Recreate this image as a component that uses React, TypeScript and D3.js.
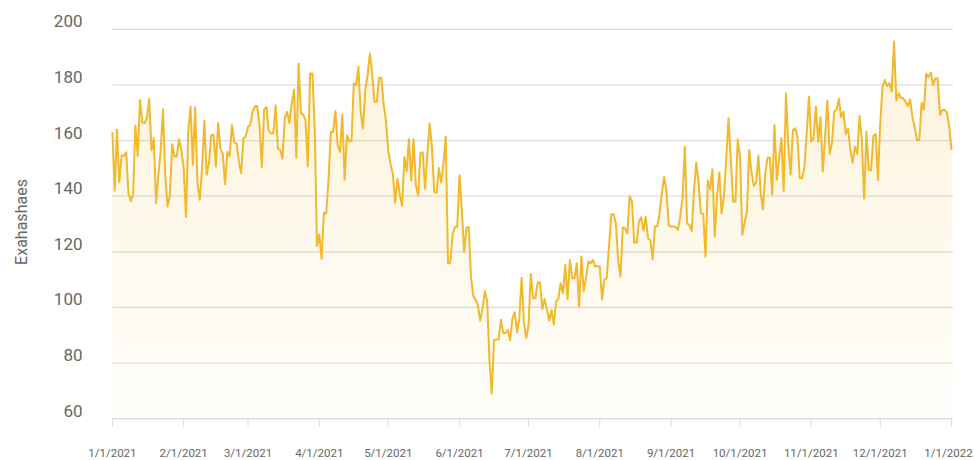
import React from "react";
import * as d3 from "d3";

const startDate = "2021-01-01";
const endDate = "2022-01-01";
const yTicks = [60, 80, 100, 120, 140, 160, 180, 200];
const yTitle = "Exahashaes";

// daily hashrate values, 1/1/2021 .. 1/1/2022
const hashrate: number[] = [
  163, 142, 164, 145, 154.6, 154.5, 155.8, 141, 138.3, 140.5,
  165.4, 154.5, 174.6, 166.5, 166.3, 168, 175, 156.5, 160.8, 137.5,
  147.7, 156.6, 171.3, 147.3, 136.3, 140.5, 158.7, 154.3, 154.3, 160.5,
  156.5, 150.3, 132.5, 163.2, 172.2, 151.3, 172, 144.7, 138.7, 150,
  167, 147.7, 151.9, 162, 162, 150.7, 166.2, 157.2, 155.4, 144.3,
  156, 154.3, 165.6, 159.4, 159, 152.5, 148.3, 160.8, 161.4, 165,
  165.7, 170.5, 172.3, 172.4, 165.5, 150.5, 171.2, 172, 163.4, 162.5,
  162.7, 172.7, 157, 156.7, 153.5, 168.2, 170.3, 166.3, 173.3, 178.3,
  153.8, 187.7, 169.7, 169.4, 167.3, 150.8, 184.1, 184.1, 164.9, 122,
  126.2, 117.5, 134, 133.7, 145.7, 163.1, 163.1, 170.6, 158.3, 155.9,
  169.4, 145.9, 161.9, 159.8, 159.8, 180.5, 179.9, 186.5, 170.3, 164.3,
  178.1, 183.5, 191.3, 184.1, 173.9, 173.9, 182.6, 182.6, 172.7, 167.3,
  156.2, 151.7, 148, 137.6, 146.3, 140.7, 136.5, 154.1, 148.9, 160.5,
  145.7, 160.5, 143.9, 140.3, 155.7, 155.7, 142.7, 154.7, 166.1, 157.7,
  141.5, 141.2, 150.1, 144.9, 151.7, 161.5, 115.7, 116.3, 126.5, 128.9,
  128.9, 147.5, 134.9, 119.9, 128.7, 128.9, 110.7, 104, 102.8, 100.7,
  95.3, 99.5, 105.9, 102.5, 81, 69, 88.2, 88.5, 88.5, 95.6,
  90.8, 90.8, 92, 88.2, 96, 98.3, 91.1, 96, 110.7, 94.8,
  89, 93.5, 112, 103.3, 103.3, 109, 109, 99.4, 103, 99.4,
  95.2, 99.1, 93.8, 102.1, 103.3, 108.7, 105.1, 115.3, 103, 117.1,
  110.5, 110.5, 115.9, 100.3, 118.3, 105.9, 110.5, 116.5, 115.9, 117.1,
  114.7, 114.9, 114.7, 103, 110.1, 110.5, 121.8, 133.5, 133.5, 130.2,
  117.1, 111.1, 128.8, 128.4, 126.6, 140, 138, 123.3, 123.3, 130.8,
  132.4, 127.6, 132.6, 124.8, 124.2, 117.3, 129.2, 129.2, 133.8, 141,
  146.9, 142.2, 129.5, 129.1, 129.1, 128.9, 127.9, 132.7, 139.3, 157.8,
  130.1, 129.7, 127.5, 142.3, 152.1, 144.7, 133.9, 133.7, 118.3, 145.6,
  142.5, 149.7, 125.5, 139.9, 148.5, 133.9, 139.9, 153.1, 168, 153.1,
  138.1, 138.1, 160.5, 154.3, 126.1, 130.5, 134.5, 156.6, 148.5, 143.7,
  144.9, 154.6, 141.1, 135.3, 148.3, 153.9, 153.9, 140.5, 165.6, 145.9,
  153.7, 160.8, 141.9, 177, 158.4, 147.7, 163.8, 164.4, 161.2, 146.5,
  146.5, 150.4, 162.6, 175.8, 159.6, 160.8, 172.2, 159.6, 168.4, 148.8,
  161.4, 174.4, 155.2, 159, 170.6, 171, 175, 168.4, 170.4, 162.4,
  164.4, 156.6, 152, 157.8, 155.2, 168.8, 160.2, 139.2, 163.2, 149.4,
  149.2, 161.6, 162.4, 145.8, 166.2, 179.4, 181.8, 179.6, 180.6, 177.6,
  195.6, 174.4, 177, 175.4, 175.2, 174, 172.4, 174.8, 168.4, 165,
  160.2, 160.2, 173.6, 171.2, 184, 182.8, 184.4, 180, 182.4, 182.4,
  169.2, 171, 171, 170, 165, 156.6,
];

const W = 974;
const H = 460;
const plotLeft = 112.4;
const plotRight = 951.5;
const gridRight = 953;
const plotTop = 29.3;
const plotBottom = 418.7;
const lineColor = "#f1b92b";
const textColor = "#666666";
const gridColor = "#dcdcdc";

const parse = d3.utcParse("%Y-%m-%d");

export default function App() {
  const start = parse(startDate) as Date;
  const end = parse(endDate) as Date;
  const data = hashrate.map((v, i) => ({ date: d3.utcDay.offset(start, i), v }));

  const x = d3.scaleUtc().domain([start, end]).range([plotLeft, plotRight]);
  const y = d3.scaleLinear().domain([60, 200]).range([plotBottom, plotTop]);

  const line = d3
    .line<{ date: Date; v: number }>()
    .x((d) => x(d.date))
    .y((d) => y(d.v));
  const area = d3
    .area<{ date: Date; v: number }>()
    .x((d) => x(d.date))
    .y0(y(60))
    .y1((d) => y(d.v));

  const months = d3.utcMonth.range(start, d3.utcDay.offset(end, 1));
  const fmt = (d: Date) => `${d.getUTCMonth() + 1}/${d.getUTCDate()}/${d.getUTCFullYear()}`;

  return (
    <div style={{ position: "absolute", left: 0, top: 0 }}>
      <svg width={W} height={H} style={{ display: "block", fontFamily: "Roboto, sans-serif" }}>
        <defs>
          <linearGradient id="areaGrad" gradientUnits="userSpaceOnUse" x1="0" x2="0" y1={y(200)} y2={y(60)}>
            <stop offset="0%" stopColor={lineColor} stopOpacity={0.17} />
            <stop offset="100%" stopColor={lineColor} stopOpacity={0.02} />
          </linearGradient>
        </defs>
        {yTicks.map((t) => (
          <g key={t}>
            <line x1={plotLeft} x2={gridRight} y1={y(t)} y2={y(t)} stroke={gridColor} strokeWidth={1.2} />
            <text x={82.5} y={y(t) - 2} textAnchor="end" fontSize={17} fill={textColor}>
              {t}
            </text>
          </g>
        ))}
        <path d={area(data) ?? ""} fill="url(#areaGrad)" />
        <path d={line(data) ?? ""} fill="none" stroke={lineColor} strokeWidth={2} strokeLinejoin="round" />
        {months.map((m, i) => (
          <g key={i}>
            <line x1={x(m)} x2={x(m)} y1={plotBottom} y2={plotBottom + 8} stroke={gridColor} strokeWidth={1} />
            <text x={Math.min(x(m), 948.5)} y={456.5} textAnchor="middle" fontSize={11.5} fill={textColor}>
              {fmt(m)}
            </text>
          </g>
        ))}
        <text
          transform={`translate(26.5, 222) rotate(-90)`}
          textAnchor="middle"
          fontSize={16}
          fill={textColor}
        >
          {yTitle}
        </text>
      </svg>
    </div>
  );
}
